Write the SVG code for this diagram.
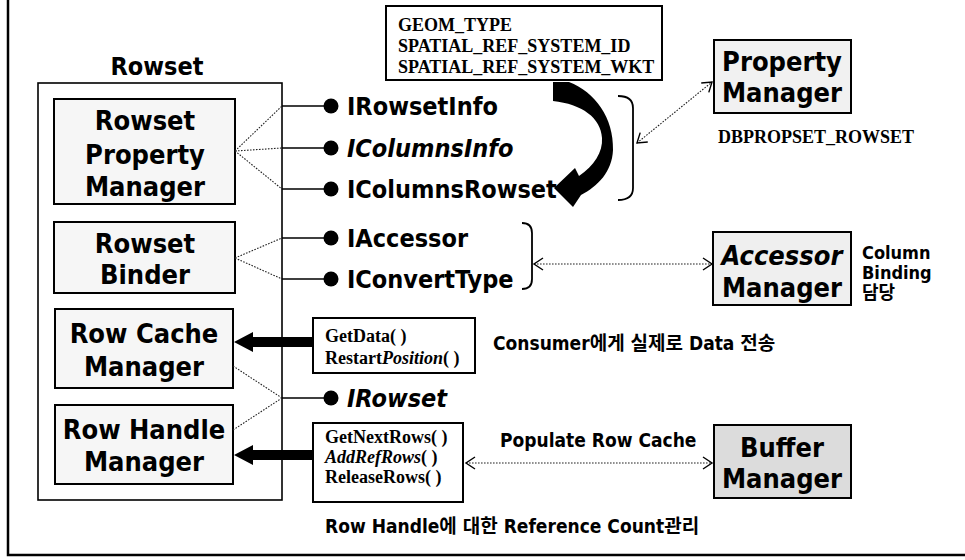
<svg xmlns="http://www.w3.org/2000/svg" width="965" height="560" viewBox="0 0 965 560">
  <defs>
    <style>
      .sans { font-family: "DejaVu Sans Condensed", "Liberation Sans", "Noto Sans CJK KR", sans-serif; font-weight: bold; fill: #000; }
      .big { font-size: 27px; text-anchor: middle; }
      .itf { font-size: 25px; }
      .note { font-size: 19px; }
      .small { font-size: 18px; }
      .serif { font-family: "Liberation Serif", serif; font-weight: bold; font-size: 18px; fill: #000; }
      .box { stroke: #000; stroke-width: 2; }
      .inner { fill: #f6f6f6; }
      .dot { stroke: #222; stroke-width: 1.1; stroke-dasharray: 1.6 1.4; fill: none; }
      .solid { stroke: #000; stroke-width: 1.6; fill: none; }
      .brace { stroke: #000; stroke-width: 1.8; fill: none; }
    </style>
    <marker id="chev" viewBox="-10 -7 12 14" markerWidth="12" markerHeight="14" refX="0" refY="0" orient="auto-start-reverse" markerUnits="userSpaceOnUse">
      <path d="M-9,-6 L0,0 L-9,6" fill="none" stroke="#000" stroke-width="1.4"/>
    </marker>
  </defs>

  <rect width="965" height="560" fill="#fff"/>

  <!-- page frame -->
  <path d="M8,0 L8,555 L965,555" fill="none" stroke="#000" stroke-width="2.5"/>

  <!-- Rowset container -->
  <g id="rowset">
    <text class="sans" x="157" y="75" font-size="25" text-anchor="middle">Rowset</text>
    <rect x="38" y="83" width="244" height="417" fill="#fff" stroke="#000" stroke-width="1.6"/>
  </g>

  <g id="rowset-property-manager">
    <rect class="box inner" x="54" y="99" width="181" height="105"/>
    <text class="sans big" x="145" y="130">Rowset</text>
    <text class="sans big" x="145" y="164">Property</text>
    <text class="sans big" x="145" y="196">Manager</text>
  </g>

  <g id="rowset-binder">
    <rect class="box inner" x="54" y="222" width="181" height="71"/>
    <text class="sans big" x="145" y="253">Rowset</text>
    <text class="sans big" x="145" y="284">Binder</text>
  </g>

  <g id="row-cache-manager">
    <rect class="box inner" x="55" y="309" width="178" height="79"/>
    <text class="sans big" x="144" y="343">Row Cache</text>
    <text class="sans big" x="144" y="376">Manager</text>
  </g>

  <g id="row-handle-manager">
    <rect class="box inner" x="55" y="405" width="178" height="79"/>
    <text class="sans big" x="144" y="439">Row Handle</text>
    <text class="sans big" x="144" y="471">Manager</text>
  </g>

  <!-- exposed interfaces -->
  <g id="interfaces">
    <g id="irowsetinfo">
      <circle cx="331" cy="106" r="7.5"/>
      <text class="sans itf" x="347" y="115">IRowsetInfo</text>
    </g>
    <g id="icolumnsinfo">
      <circle cx="331" cy="148" r="7.5"/>
      <text class="sans itf" x="347" y="157" font-style="italic">IColumnsInfo</text>
    </g>
    <g id="icolumnsrowset">
      <circle cx="331" cy="189" r="7.5"/>
      <text class="sans itf" x="347" y="198">IColumnsRowset</text>
    </g>
    <g id="iaccessor">
      <circle cx="331" cy="238" r="7.5"/>
      <text class="sans itf" x="347" y="247">IAccessor</text>
    </g>
    <g id="iconverttype">
      <circle cx="331" cy="279" r="7.5"/>
      <text class="sans itf" x="347" y="288">IConvertType</text>
    </g>
    <g id="irowset">
      <circle cx="331" cy="398" r="7.5"/>
      <text class="sans itf" x="347" y="407" font-style="italic">IRowset</text>
    </g>
  </g>

  <!-- geometry column properties -->
  <g id="geom-props">
    <rect class="box" x="386" y="6" width="276" height="74" fill="#fff"/>
    <text class="serif" x="398" y="31">GEOM_TYPE</text>
    <text class="serif" x="398" y="52">SPATIAL_REF_SYSTEM_ID</text>
    <text class="serif" x="398" y="73">SPATIAL_REF_SYSTEM_WKT</text>
  </g>

  <g id="property-manager">
    <rect class="box" x="714" y="40" width="137" height="73" fill="#f1f1f1"/>
    <text class="sans big" x="782" y="71">Property</text>
    <text class="sans big" x="782" y="102">Manager</text>
    <text class="serif" x="718" y="143" font-size="17">DBPROPSET_ROWSET</text>
  </g>

  <g id="accessor-manager">
    <rect class="box" x="713" y="232" width="138" height="73" fill="#efefef"/>
    <text class="sans big" x="782" y="265" font-style="italic">Accessor</text>
    <text class="sans big" x="782" y="297">Manager</text>
    <text class="sans small" x="862" y="259">Column</text>
    <text class="sans small" x="862" y="279">Binding</text>
    <text class="sans small" x="862" y="299" font-weight="normal">담당</text>
  </g>

  <g id="row-access-methods">
    <rect class="box" x="313" y="318" width="162" height="55" fill="#fff"/>
    <text class="serif" x="325" y="342">GetData( )</text>
    <text class="serif" x="325" y="364">Restart<tspan font-style="italic">Position</tspan>( )</text>
    <text class="sans note" x="493" y="350">Consumer에게 실제로 Data 전송</text>
  </g>

  <g id="row-fetch-methods">
    <rect class="box" x="313" y="423" width="150" height="79" fill="#fff"/>
    <text class="serif" x="325" y="443">GetNextRows( )</text>
    <text class="serif" x="325" y="463"><tspan font-style="italic">AddRefRows</tspan>( )</text>
    <text class="serif" x="325" y="483">ReleaseRows( )</text>
    <text class="sans note" x="500" y="447">Populate Row Cache</text>
    <text class="sans note" x="325" y="533">Row Handle에 대한 Reference Count관리</text>
  </g>

  <g id="buffer-manager">
    <rect class="box" x="714" y="425" width="137" height="73" fill="#dcdcdc"/>
    <text class="sans big" x="782" y="457">Buffer</text>
    <text class="sans big" x="782" y="488">Manager</text>
  </g>

  <!-- connectors -->
  <g id="connectors">
    <!-- component fan-out to the container edge -->
    <path class="dot" d="M235,151 L282,106 M235,151 L282,148 M235,151 L282,189"/>
    <path class="dot" d="M235,258 L282,238 M235,258 L282,279"/>
    <path class="dot" d="M233,366 L282,398 M233,430 L282,398"/>

    <!-- interface stems -->
    <path class="solid" d="M282,106 H325 M282,148 H325 M282,189 H325 M282,238 H325 M282,279 H325 M282,398 H325"/>

    <!-- braces -->
    <path class="brace" d="M618,96 C628,96 633,100 633,108 L633,188 C633,196 628,200 618,200"/>
    <path class="brace" d="M522,223 C529,223 532,227 532,233 L532,279 C532,285 529,289 522,289"/>

    <!-- property / accessor / buffer links -->
    <path class="dot" d="M637,143 L712,82" marker-start="url(#chev)" marker-end="url(#chev)"/>
    <path class="dot" d="M534,264 L712,264" marker-start="url(#chev)" marker-end="url(#chev)"/>
    <path class="dot" d="M466,463 L712,463" marker-start="url(#chev)" marker-end="url(#chev)"/>

    <!-- thick call arrows into the row managers -->
    <path d="M313,337 L253,337 L253,332 L234,342 L253,352 L253,347 L313,347 Z" fill="#000"/>
    <path d="M313,450 L253,450 L253,445 L234,455 L253,465 L253,460 L313,460 Z" fill="#000"/>

    <!-- curved arrow from geometry properties to IColumnsRowset -->
    <path d="M553,82 L569,82 C595,92 614,118 613,150 C612,172 598,186 581,195 L573,207 L554,188 L575,168 L579,176 C594,166 603,152 602,138 C601,118 582,104 553,101 Z" fill="#000"/>
  </g>
</svg>
